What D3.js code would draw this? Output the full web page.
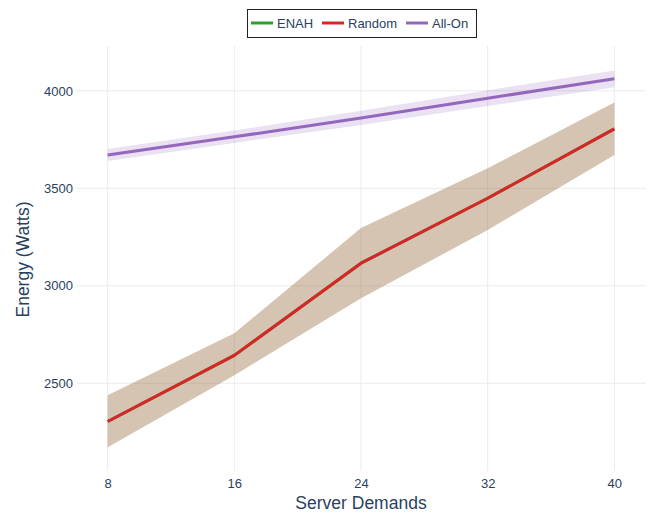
<!DOCTYPE html>
<meta charset="utf-8">
<style>
body { margin: 0; background: #fff; }
text { font-family: "Liberation Sans", Arial, sans-serif; fill: #2a3f5f; }
.grid line { stroke: #ebebeb; stroke-width: 1px; }
.line { fill: none; stroke-width: 3px; stroke-linejoin: round; }
</style>
<body>
<script src="https://d3js.org/d3.v7.min.js"></script>
<script>

// data
var demands = [8, 16, 24, 32, 40];

var enahMean  = [2304, 2643, 3116, 3449, 3805];
var enahUpper = [2438, 2756, 3296, 3603, 3940];
var enahLower = [2172, 2541, 2936, 3286, 3671];

var randomMean  = [2304, 2643, 3116, 3449, 3805];
var randomUpper = [2438, 2756, 3296, 3603, 3940];
var randomLower = [2172, 2541, 2936, 3286, 3671];

var allOnMean  = [3671, 3764, 3861, 3962, 4062];
var allOnUpper = [3702, 3796, 3898, 4003, 4104];
var allOnLower = [3640, 3733, 3825, 3922, 4018];

var xTicks = [8, 16, 24, 32, 40];
var yTicks = [2500, 3000, 3500, 4000];

var seriesNames = ["ENAH", "Random", "All-On"];
var colors = ["#2ca02c", "#d62728", "#9467bd"];
var fills = ["rgba(44,160,44,0.2)", "rgba(214,39,40,0.2)", "rgba(148,103,189,0.2)"];

var series = [
  {mean: enahMean, upper: enahUpper, lower: enahLower},
  {mean: randomMean, upper: randomUpper, lower: randomLower},
  {mean: allOnMean, upper: allOnUpper, lower: allOnLower}
];

// dimensions
var W = 651, H = 515;
var margin = {top: 46, right: 5, bottom: 44, left: 76},
    width = W - margin.left - margin.right,
    height = H - margin.top - margin.bottom;

var x = d3.scaleLinear().domain([6, 42]).range([0, width]);
var y = d3.scaleLinear().domain([2050, 4230]).range([height, 0]);

var svg = d3.select("body").append("svg")
    .attr("width", W)
    .attr("height", H);

var g = svg.append("g")
    .attr("transform", "translate(" + margin.left + "," + margin.top + ")");

// grid
g.append("g").attr("class", "grid")
  .selectAll("line").data(xTicks).join("line")
    .attr("x1", d => x(d)).attr("x2", d => x(d))
    .attr("y1", 0).attr("y2", height);

g.append("g").attr("class", "grid")
  .selectAll("line").data(yTicks).join("line")
    .attr("x1", 0).attr("x2", width)
    .attr("y1", d => y(d)).attr("y2", d => y(d));

// bands then lines
var area = d3.area()
    .x((d, i) => x(demands[i]))
    .y0(d => y(d[0]))
    .y1(d => y(d[1]));

var line = d3.line()
    .x((d, i) => x(demands[i]))
    .y(d => y(d));

series.forEach(function(s, k) {
  g.append("path")
    .datum(s.lower.map((v, i) => [v, s.upper[i]]))
    .attr("fill", fills[k])
    .attr("d", area);
  g.append("path")
    .datum(s.mean)
    .attr("class", "line")
    .attr("stroke", colors[k])
    .attr("d", line);
});

// axes
var xAxis = g.append("g")
    .attr("transform", "translate(0," + height + ")")
    .call(d3.axisBottom(x).tickValues(xTicks).tickSize(0).tickPadding(8));
xAxis.select(".domain").remove();
xAxis.selectAll("text").style("font-size", "13px").attr("fill", "#2a3f5f")
    .style("font-family", '"Liberation Sans", Arial, sans-serif');

var yAxis = g.append("g")
    .call(d3.axisLeft(y).tickValues(yTicks).tickFormat(d3.format("d")).tickSize(0).tickPadding(3));
yAxis.select(".domain").remove();
yAxis.selectAll("text").style("font-size", "13px").attr("fill", "#2a3f5f")
    .style("font-family", '"Liberation Sans", Arial, sans-serif');

// axis titles
svg.append("text")
    .attr("x", margin.left + x(24))
    .attr("y", 509)
    .attr("text-anchor", "middle")
    .style("font-size", "17.5px")
    .text("Server Demands");

svg.append("text")
    .attr("transform", "translate(29," + (margin.top + height / 2 + 1) + ") rotate(-90)")
    .attr("text-anchor", "middle")
    .style("font-size", "17.5px")
    .text("Energy (Watts)");

// legend
var legend = svg.append("g");
legend.append("rect")
    .attr("x", 247.5).attr("y", 9.5)
    .attr("width", 229).attr("height", 28)
    .attr("fill", "#fff").attr("stroke", "#222").attr("stroke-width", 1);

var legendX = [251, 322, 406];
seriesNames.forEach(function(name, k) {
  legend.append("line")
    .attr("x1", legendX[k]).attr("x2", legendX[k] + 22)
    .attr("y1", 23).attr("y2", 23)
    .attr("stroke", colors[k]).attr("stroke-width", 3);
  legend.append("text")
    .attr("x", legendX[k] + 26).attr("y", 28)
    .style("font-size", "13px")
    .text(name);
});

</script>
</body>
